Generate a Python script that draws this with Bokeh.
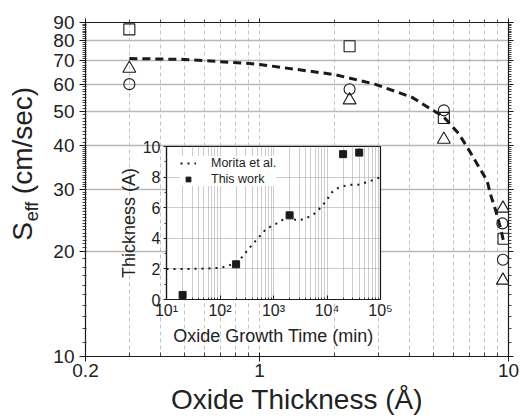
from bokeh.plotting import figure
from bokeh.models import FixedTicker, LogAxis, Legend, LegendItem
from bokeh.layouts import column
from bokeh.embed import file_html
from bokeh.resources import INLINE

FONT = "Liberation Sans"
INK = "#1a1a1a"

# ---- main plot: effective recombination velocity vs oxide thickness ----
sq_thickness = [0.30, 2.3, 5.5, 9.55]
sq_seff = [86, 77, 48, 21.7]
ci_thickness = [0.30, 2.3, 5.5, 9.45, 9.5]
ci_seff = [60, 58, 50.5, 24, 18.9]
tr_thickness = [0.30, 2.3, 5.5, 9.5, 9.5]
tr_seff = [66.5, 54, 41.7, 26.5, 16.5]

fit_thickness = [0.30, 0.5, 0.91, 1.0, 2.0, 2.9, 4.1, 5.5, 6.3, 6.8, 8.2, 8.5, 8.9, 9.3, 9.6]
fit_seff = [71, 70.6, 68.7, 68.3, 63.9, 60, 55, 48.3, 43.4, 39.8, 31.8, 28.8, 26, 23.2, 21]

x_major = [0.2, 1, 10]
x_minor = [0.3, 0.4, 0.5, 0.6, 0.7, 0.8, 0.9, 2, 3, 4, 5, 6, 7, 8, 9]
y_major = [10, 20, 30, 40, 50, 60, 70, 80, 90]
y_minor = ([10 + i for i in range(10)] + [20 + 0.5 * i for i in range(40)]
           + [40 + i for i in range(51)])

# ---- inset: oxide thickness vs growth time ----
morita_time = [10, 30, 60, 100, 130, 180, 257, 340, 480, 590, 720, 1120, 1370, 2000,
               2570, 3200, 4260, 5750, 7100, 9200, 12300, 16300, 25000, 38000, 60000, 100000]
morita_thick = [2.0, 2.0, 2.03, 2.07, 2.15, 2.35, 2.76, 3.3, 3.9, 4.25, 4.6, 4.95, 5.15, 5.4,
                5.2, 5.2, 5.35, 5.6, 5.9, 6.35, 7.0, 7.3, 7.5, 7.5, 7.7, 8.0]
work_time = [20, 200, 2000, 20000, 40000]
work_thick = [0.3, 2.3, 5.5, 9.5, 9.6]

t_major = [10, 100, 1000, 10000, 100000]
t_labels = ["10¹", "10²", "10³", "10⁴", "10⁵"]
t_minor = [k * 10 ** n for n in range(1, 5) for k in range(2, 10)]
h_major = [0, 2, 4, 6, 8, 10]
h_minor = [1, 3, 5, 7, 9]

p = figure(width=523, height=418, x_axis_type="log", y_axis_type="log",
           x_range=(0.2, 10), y_range=(10, 90),
           output_backend="svg", toolbar_location=None,
           min_border_left=85, min_border_right=12, min_border_top=22, min_border_bottom=62)
p.outline_line_color = None
p.background_fill_color = "white"


def style_axis(ax, ticker):
    ax.ticker = ticker
    ax.axis_line_color = INK
    ax.axis_line_width = 1.2
    ax.major_tick_line_color = INK
    ax.minor_tick_line_color = INK
    ax.minor_tick_line_width = 0.8
    ax.major_label_text_font = FONT
    ax.major_label_text_font_size = "19px"
    ax.major_label_text_color = "#222222"
    ax.axis_label_text_font = FONT
    ax.axis_label_text_font_style = "normal"


xt = FixedTicker(ticks=x_major, minor_ticks=x_minor)
yt = FixedTicker(ticks=y_major, minor_ticks=y_minor)

xa = p.xaxis[0]
style_axis(xa, xt)
xa.major_label_overrides = {0.2: "0.2", 1: "1", 10: "10"}
xa.major_tick_out = 5
xa.major_tick_in = 4
xa.minor_tick_out = 0
xa.minor_tick_in = 4
xa.major_label_standoff = 2
xa.axis_label = "Oxide Thickness (Å)"
xa.axis_label_text_font_size = "28px"
xa.axis_label_text_color = "#222222"
xa.axis_label_standoff = 4

ya = p.yaxis[0]
style_axis(ya, yt)
ya.major_label_overrides = {v: str(v) for v in y_major}
ya.major_tick_out = 6
ya.major_tick_in = 0
ya.minor_tick_out = 3
ya.minor_tick_in = 1
ya.major_label_standoff = 5

top = LogAxis()
style_axis(top, FixedTicker(ticks=x_major, minor_ticks=x_minor))
top.major_label_overrides = {v: "" for v in x_major}
top.major_tick_out = 4
top.major_tick_in = 0
top.minor_tick_out = 3
top.minor_tick_in = 0
top.major_label_standoff = 0
p.add_layout(top, "above")

right = LogAxis()
style_axis(right, FixedTicker(ticks=y_major, minor_ticks=y_minor))
right.major_label_overrides = {v: "" for v in y_major}
right.major_tick_out = 5
right.major_tick_in = 0
right.minor_tick_out = 3
right.minor_tick_in = 0
right.major_label_standoff = 0
p.add_layout(right, "right")

p.xgrid.ticker = xt
p.xgrid.grid_line_color = "#c4c4c4"
p.xgrid.grid_line_dash = "4 3"
p.xgrid.minor_grid_line_color = "#c4c4c4"
p.xgrid.minor_grid_line_dash = "4 3"
p.ygrid.ticker = FixedTicker(ticks=y_major)
p.ygrid.grid_line_color = "#b8b8b8"
p.ygrid.grid_line_width = 1.3

p.line(fit_thickness, fit_seff, line_color=INK, line_width=3, line_dash="8 5")
p.scatter(sq_thickness, sq_seff, marker="square", size=11, fill_color=None,
          line_color=INK, line_width=1.1)
p.scatter(ci_thickness, ci_seff, marker="circle", size=11, fill_color=None,
          line_color=INK, line_width=1.1)
p.scatter(tr_thickness, tr_seff, marker="triangle", size=13, fill_color=None,
          line_color=INK, line_width=1.1)


# ---- y-axis title S_eff (cm/sec): each piece is the label of a bare axis ----
def title_piece(text, size, left, top, height, border):
    f = figure(width=border + 4, height=height, x_range=(0, 1), y_range=(0, 1),
               output_backend="svg", toolbar_location=None, min_border=0,
               min_border_left=border, x_axis_location=None)
    f.grid.visible = False
    f.outline_line_color = None
    f.background_fill_alpha = 0
    f.border_fill_alpha = 0
    ax = f.yaxis[0]
    ax.ticker = FixedTicker(ticks=[])
    ax.axis_line_color = None
    ax.major_tick_line_color = None
    ax.minor_tick_line_color = None
    ax.major_tick_out = 0
    ax.minor_tick_out = 0
    ax.major_label_standoff = 0
    ax.axis_label = text
    ax.axis_label_text_font = FONT
    ax.axis_label_text_font_style = "normal"
    ax.axis_label_text_font_size = size
    ax.axis_label_text_color = "#222222"
    ax.axis_label_standoff = 0
    f.styles = {"position": "absolute", "left": f"{left}px", "top": f"{top}px"}
    return f


piece_s = title_piece("S", "28px", 0, 211, 40, 48)
piece_eff = title_piece("eff", "18px", 0, 196, 30, 52)
piece_unit = title_piece("(cm/sec)", "28px", 0, 80, 120, 48)

# ---- inset figure ----
inset = figure(width=314, height=225, x_axis_type="log",
               x_range=(10, 100000), y_range=(0, 10),
               output_backend="svg", toolbar_location=None,
               min_border_left=80, min_border_right=15, min_border_top=10,
               min_border_bottom=62)
inset.border_fill_alpha = 0
inset.background_fill_color = "white"
inset.outline_line_color = INK
inset.outline_line_width = 1.2

ixa = inset.xaxis[0]
ixt = FixedTicker(ticks=t_major, minor_ticks=t_minor)
style_axis(ixa, ixt)
ixa.major_label_overrides = dict(zip(t_major, t_labels))
ixa.major_label_text_font_size = "16px"
ixa.major_tick_out = 0
ixa.major_tick_in = 4
ixa.minor_tick_out = 0
ixa.minor_tick_in = 2
ixa.major_label_standoff = 2
ixa.axis_label = "Oxide Growth Time (min)"
ixa.axis_label_text_font_size = "18px"
ixa.axis_label_text_color = "#222222"
ixa.axis_label_standoff = 4

iya = inset.yaxis[0]
iyt = FixedTicker(ticks=h_major, minor_ticks=h_minor)
style_axis(iya, iyt)
iya.major_label_text_font_size = "16px"
iya.major_tick_out = 3
iya.major_tick_in = 0
iya.minor_tick_out = 2
iya.minor_tick_in = 0
iya.major_label_standoff = 3
iya.axis_label = "Thickness (A)"
iya.axis_label_text_font_size = "18px"
iya.axis_label_text_color = "#222222"
iya.axis_label_standoff = 1

inset.xgrid.ticker = ixt
inset.xgrid.grid_line_color = "#9a9a9a"
inset.xgrid.grid_line_dash = "1 1"
inset.xgrid.minor_grid_line_color = "#9a9a9a"
inset.xgrid.minor_grid_line_dash = "1 1"
inset.ygrid.ticker = FixedTicker(ticks=[2, 4, 6, 8])
inset.ygrid.grid_line_color = "#9a9a9a"
inset.ygrid.grid_line_dash = "1 1"

mor = inset.line(morita_time, morita_thick, line_color=INK, line_width=2, line_dash="2 5")
wrk = inset.scatter(work_time, work_thick, marker="square", size=7,
                    fill_color=INK, line_color=INK)

legend = Legend(items=[LegendItem(label="Morita et al.", renderers=[mor]),
                       LegendItem(label="This work", renderers=[wrk])],
                location=(14, 113), margin=0, padding=7, spacing=2,
                glyph_width=16, glyph_height=12, label_height=12,
                label_standoff=15, border_line_color=None,
                background_fill_color="white", background_fill_alpha=1,
                label_text_font=FONT, label_text_font_size="12.5px",
                label_text_color="#222222")
inset.add_layout(legend)

inset.styles = {"position": "absolute", "left": "81px", "top": "136px"}

layout = column(p, piece_unit, piece_eff, piece_s, inset)
open("out.html", "w").write(file_html(layout, INLINE))
